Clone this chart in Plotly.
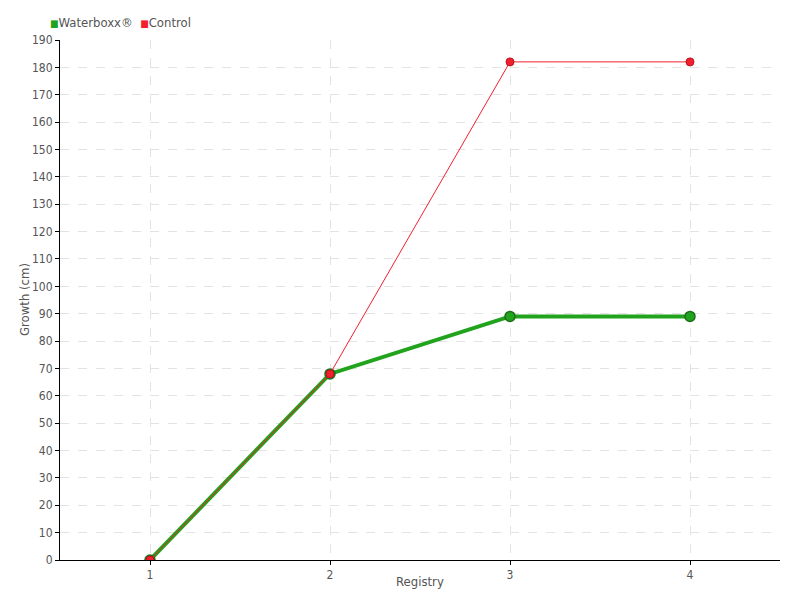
import plotly.graph_objects as go

registry = [1, 2, 3, 4]
waterboxx = [0, 68, 89, 89]
control = [0, 68, 182, 182]
y_ticks = list(range(0, 191, 10))

font = "DejaVu Sans Condensed, DejaVu Sans, sans-serif"
green = "#22a31e"
red = "#f0202e"

fig = go.Figure()
fig.add_trace(go.Scatter(
    x=registry, y=waterboxx, mode="lines+markers", name="Waterboxx®",
    line=dict(color=green, width=4),
    marker=dict(size=10, color=green, line=dict(color="#1e6e1a", width=1.5)),
    showlegend=False,
))
fig.add_trace(go.Scatter(
    x=registry, y=control, mode="lines+markers", name="Control",
    line=dict(color=red, width=1),
    marker=dict(size=8, color=red, line=dict(color="#c01020", width=1)),
    showlegend=False,
))

fig.add_annotation(
    xref="paper", yref="paper", x=-0.0167, y=1.0, yshift=18,
    xanchor="left", yanchor="middle", showarrow=False,
    text=f"<span style='color:{green};font-size:10px'>■</span>Waterboxx®  "
         f"<span style='color:{red};font-size:10px'>■</span>Control",
    font=dict(family=font, size=13, color="#555555"),
)
fig.add_annotation(
    xref="paper", yref="paper", x=0.5, y=0, yshift=-21,
    xanchor="center", yanchor="middle", showarrow=False,
    text="Registry", font=dict(family=font, size=13, color="#555555"),
)
fig.add_annotation(
    xref="paper", yref="paper", x=0, y=0.5, xshift=-36,
    xanchor="center", yanchor="middle", showarrow=False, textangle=-90,
    text="Growth (cm)", font=dict(family=font, size=13, color="#555555"),
)

fig.update_layout(
    width=792, height=592,
    margin=dict(l=52, r=20, t=32, b=40, autoexpand=False),
    plot_bgcolor="white", paper_bgcolor="white",
    font=dict(family=font, size=13, color="#555555"),
    showlegend=False,
    xaxis=dict(
        range=[0.5, 4.5], tickmode="array", tickvals=registry,
        ticktext=[str(v) for v in registry],
        showline=True, linecolor="black", linewidth=1,
        ticks="outside", ticklen=4, tickcolor="black",
        tickfont=dict(size=12),
        showgrid=True, gridcolor="#e3e3e3", griddash="dash",
        zeroline=False, automargin=False,
    ),
    yaxis=dict(
        range=[0, 190], tickmode="array", tickvals=y_ticks,
        showline=True, linecolor="black", linewidth=1,
        ticks="outside", ticklen=4, tickcolor="black",
        tickfont=dict(size=12),
        showgrid=True, gridcolor="#e3e3e3", griddash="dash",
        zeroline=False, automargin=False,
    ),
)

fig.write_html("out.html")
